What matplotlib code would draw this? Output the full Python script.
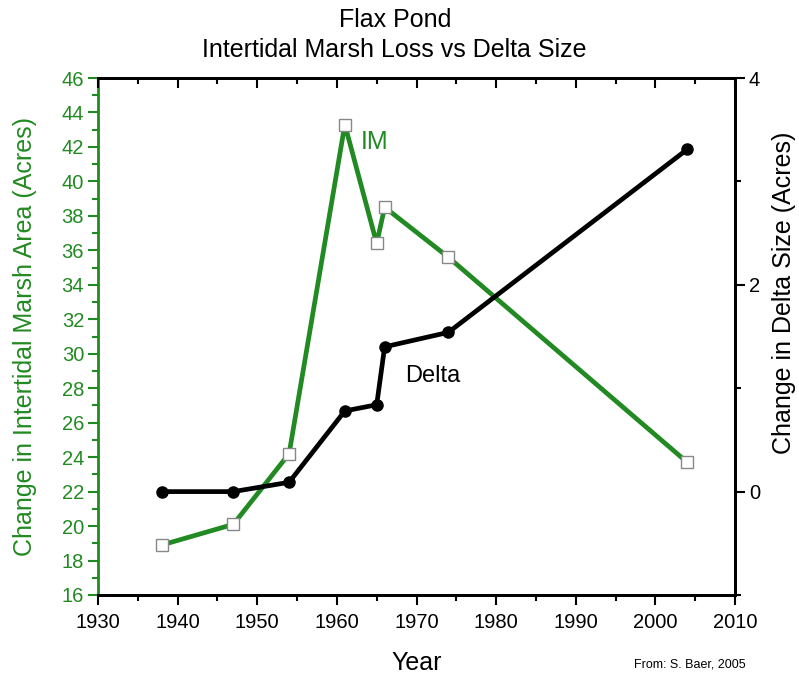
import matplotlib
matplotlib.use("Agg")
import matplotlib.pyplot as plt
from matplotlib.ticker import MultipleLocator

plt.rcParams["font.family"] = ["Liberation Sans", "DejaVu Sans"]

# values
years = [1938, 1947, 1954, 1961, 1965, 1966, 1974, 2004]
im_area = [18.9, 20.1, 24.2, 43.3, 36.4, 38.5, 35.6, 23.7]
delta_size = [0.0, 0.0, 0.09, 0.78, 0.84, 1.40, 1.54, 3.31]

green = "#228a22"
tick_size = 14.5
label_size = 18

fig = plt.figure(figsize=(7.99, 6.79), dpi=100)
ax = fig.add_axes([98 / 799, 1 - 595 / 679, (735 - 98) / 799, (595 - 78) / 679])
ax2 = ax.twinx()
ax3 = ax.twiny()

# intertidal marsh (left axis)
ax.plot(years, im_area, color=green, linewidth=3.4, zorder=2)
ax.plot(years, im_area, linestyle="none", marker="s", markersize=8,
        markerfacecolor="white", markeredgecolor="#888888",
        markeredgewidth=1.0, zorder=3)

# delta (right axis)
ax2.plot(years, delta_size, color="black", linewidth=3.4, marker="o",
         markersize=8, markerfacecolor="black", zorder=3)

ax.set_xlim(1930, 2010)
ax3.set_xlim(1930, 2010)
ax.set_ylim(16, 46)
ax2.set_ylim(-1, 4)

for a in (ax.xaxis, ax3.xaxis):
    a.set_major_locator(MultipleLocator(10))
    a.set_minor_locator(MultipleLocator(5))
ax.yaxis.set_major_locator(MultipleLocator(2))
ax.yaxis.set_minor_locator(MultipleLocator(1))
ax2.yaxis.set_major_locator(MultipleLocator(2))
ax2.yaxis.set_minor_locator(MultipleLocator(1))

ax.tick_params(axis="x", which="major", direction="out", length=7, width=1.5,
               labelsize=tick_size, pad=6)
ax.tick_params(axis="x", which="minor", direction="out", length=4, width=1.5)
ax.tick_params(axis="y", which="major", direction="out", length=7, width=1.5,
               colors=green, labelsize=tick_size, pad=3)
ax.tick_params(axis="y", which="minor", direction="out", length=4, width=1.5,
               colors=green)
ax2.tick_params(axis="y", which="major", direction="out", length=7, width=1.5,
                labelsize=tick_size, pad=3)
ax2.tick_params(axis="y", which="minor", direction="out", length=4, width=1.5)

# top axis ticks point inward
ax3.tick_params(axis="x", which="major", direction="in", length=7, width=1.5,
                labeltop=False)
ax3.tick_params(axis="x", which="minor", direction="in", length=4, width=1.5)

for a in (ax, ax2, ax3):
    for side in ["top", "bottom", "right"]:
        a.spines[side].set_linewidth(2)
    a.spines["left"].set_visible(False)
ax.spines["left"].set_visible(True)
ax.spines["left"].set_color(green)
ax.spines["left"].set_linewidth(2)

ax.set_xlabel("Year", fontsize=18, labelpad=14)
ax.set_ylabel("Change in Intertidal Marsh Area (Acres)", fontsize=label_size,
              color=green)
ax.yaxis.set_label_coords(-0.096, 0.5)
ax2.set_ylabel("Change in Delta Size (Acres)", fontsize=label_size)
ax2.yaxis.set_label_coords(1.058, 0.585)

ax.text(1963, 41.9, "IM", color=green, fontsize=18)
ax2.text(1968.6, 1.06, "Delta", color="black", fontsize=17)

fig.text(0.494, 0.988, "Flax Pond", ha="center", va="top", fontsize=18)
fig.text(0.494, 0.944, "Intertidal Marsh Loss vs Delta Size", ha="center",
         va="top", fontsize=18)
fig.text(0.933, 0.012, "From: S. Baer, 2005", ha="right", va="bottom",
         fontsize=9)

fig.savefig("out.png", dpi=100)
